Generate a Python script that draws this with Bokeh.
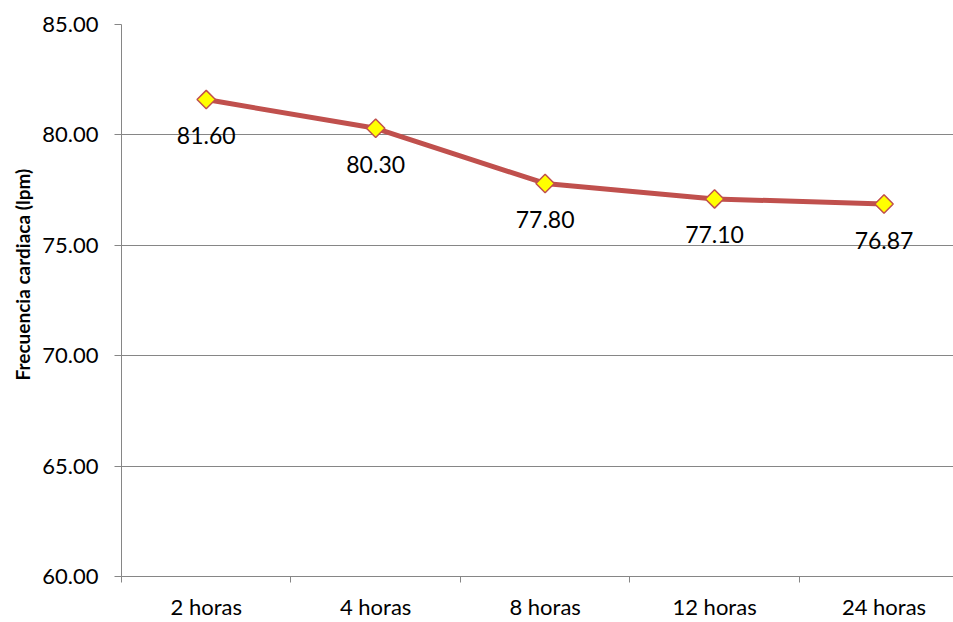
import math
from bokeh.plotting import figure
from bokeh.models import ColumnDataSource, FixedTicker, LabelSet, Title, Range1d, NumeralTickFormatter
from bokeh.core.properties import value
from bokeh.embed import file_html
from bokeh.resources import INLINE

categories = ["2 horas", "4 horas", "8 horas", "12 horas", "24 horas"]
values = [81.60, 80.30, 77.80, 77.10, 76.87]
y_ticks = [60, 65, 70, 75, 80, 85]
y_title = "Frecuencia cardiaca (lpm)"

FONT = "Lato"
GRAY = "#868686"
RED = "#C0504D"

xs = list(range(len(categories)))
src = ColumnDataSource(dict(x=xs, y=values, lab=["%.2f" % v for v in values]))

p = figure(width=953, height=622, output_backend="svg", toolbar_location=None,
           x_range=Range1d(-0.5, 4.41), y_range=Range1d(60, 85),
           min_border_left=121, min_border_top=24, min_border_bottom=44, min_border_right=0)
p.outline_line_color = None
p.xgrid.grid_line_color = None
p.ygrid.grid_line_color = GRAY
p.ygrid.ticker = FixedTicker(ticks=y_ticks)

p.yaxis.ticker = FixedTicker(ticks=y_ticks)
p.yaxis.formatter = NumeralTickFormatter(format="0.00")
p.yaxis.axis_line_color = GRAY
p.yaxis.major_tick_line_color = GRAY
p.yaxis.major_tick_out = 7
p.yaxis.major_tick_in = 0
p.yaxis.minor_tick_line_color = None
p.yaxis.major_label_text_font = FONT
p.yaxis.major_label_text_font_size = "22px"
p.yaxis.major_label_text_color = "black"
p.yaxis.major_label_standoff = 16

p.xaxis.ticker = FixedTicker(ticks=xs, minor_ticks=[i - 0.5 for i in range(len(categories) + 1)])
p.xaxis.major_label_overrides = {i: c for i, c in enumerate(categories)}
p.xaxis.axis_line_color = GRAY
p.xaxis.major_tick_line_color = None
p.xaxis.minor_tick_line_color = GRAY
p.xaxis.minor_tick_out = 6
p.xaxis.minor_tick_in = 0
p.xaxis.major_label_text_font = FONT
p.xaxis.major_label_text_font_size = "22px"
p.xaxis.major_label_text_color = "black"
p.xaxis.major_label_standoff = 10

p.line("x", "y", source=src, line_color=RED, line_width=5)
p.scatter("x", "y", source=src, marker="square", angle=math.pi / 4, size=13,
          fill_color="#FFFF00", line_color=RED, line_width=1.5)

labels = LabelSet(x="x", y="y", text="lab", source=src, y_offset=-36,
                  text_align="center", text_baseline="middle",
                  text_font=value(FONT), text_font_size="23px", text_color="black")
p.add_layout(labels)

ttl = Title(text=y_title, align="left", offset=196, standoff=12, text_font=FONT,
            text_font_style="bold", text_font_size="19px", text_color="black")
p.add_layout(ttl, "left")

open("out.html", "w").write(file_html(p, INLINE))
